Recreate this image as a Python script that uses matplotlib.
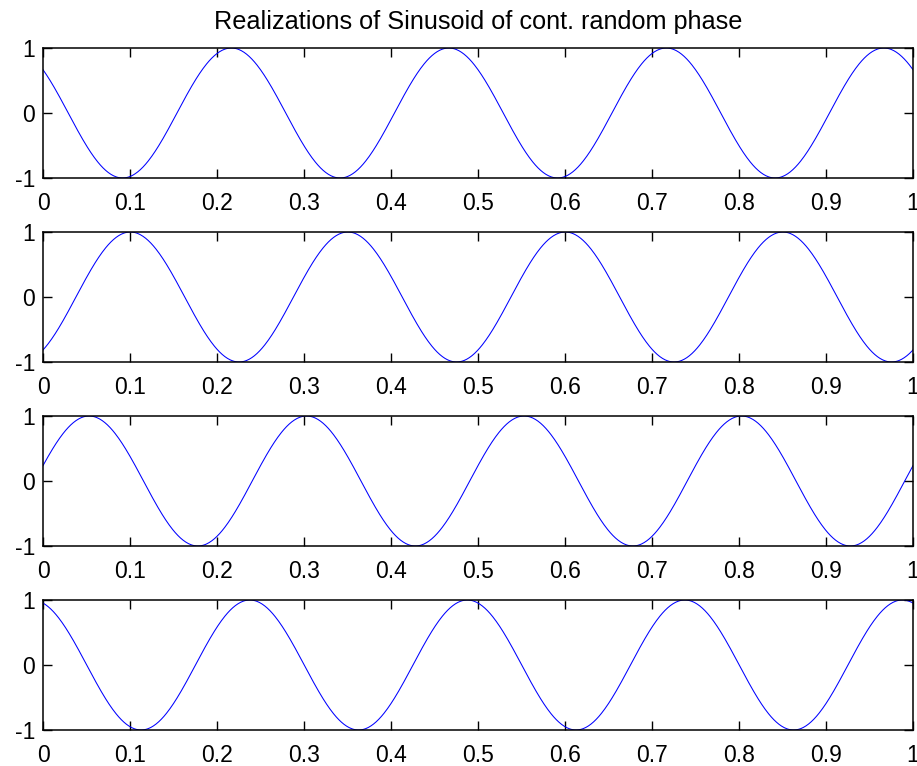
import matplotlib.pyplot as plt
import numpy as np

plt.rcParams['font.family'] = ['Liberation Sans', 'DejaVu Sans']
plt.rcParams['axes.unicode_minus'] = False

# four realizations of a 4 Hz sinusoid, each with its own phase (in units of pi)
freq = 4
phases = [0.268, 1.197, -0.424, 0.098]
n_samples = 1001
x_ticks = [0, 0.1, 0.2, 0.3, 0.4, 0.5, 0.6, 0.7, 0.8, 0.9, 1]
x_ticklabels = ['0', '0.1', '0.2', '0.3', '0.4', '0.5', '0.6', '0.7', '0.8', '0.9', '1']
y_ticks = [-1, 0, 1]
y_ticklabels = ['-1', '0', '1']
title = 'Realizations of Sinusoid of cont. random phase'

W, H = 917, 766
fig = plt.figure(figsize=(W / 100, H / 100), dpi=100)

t = np.linspace(0, 1, n_samples)
left, right = 43, 913
tops = [48, 232, 416, 600]
ax_h = 130

for i, ph in enumerate(phases):
    ax = fig.add_axes([left / W, 1 - (tops[i] + ax_h) / H,
                       (right - left) / W, ax_h / H])
    x = np.cos(2 * np.pi * freq * t + ph * np.pi)
    ax.plot(t, x, color=(0, 0, 1), lw=0.75)
    ax.set_xlim(0, 1)
    ax.set_ylim(-1, 1)
    ax.set_xticks(x_ticks)
    ax.set_xticklabels(x_ticklabels)
    ax.set_yticks(y_ticks)
    ax.set_yticklabels(y_ticklabels)
    ax.tick_params(direction='in', top=True, right=True, length=6.5,
                   width=1.0, labelsize=16.5, color='black')
    ax.tick_params(axis='x', pad=10)
    ax.tick_params(axis='y', pad=5.5)
    for s in ax.spines.values():
        s.set_linewidth(1.1)
        s.set_color('black')
    if i == 0:
        ax.set_title(title, fontsize=18.2, pad=14)

fig.savefig('out.png', dpi=100)
